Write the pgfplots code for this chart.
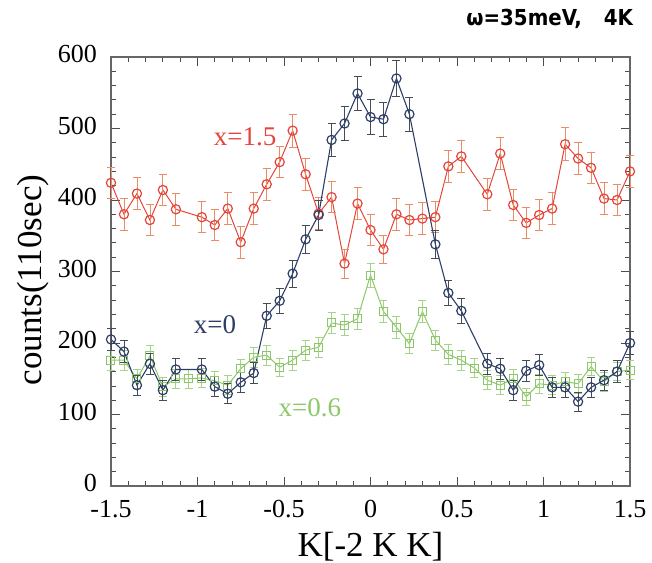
\documentclass[border=0pt]{standalone}
\usepackage{fontspec}
\setmainfont{Liberation Serif}
\newfontfamily\titlefont{DejaVu Sans Condensed}
\usepackage{pgfplots}
\usepackage{pgfplotstable}
\pgfplotsset{compat=1.18}
\definecolor{redser}{RGB}{228,68,58}
\definecolor{rederr}{RGB}{236,140,100}
\definecolor{blueser}{RGB}{45,62,105}
\definecolor{blueerr}{RGB}{70,75,90}
\definecolor{greenser}{RGB}{140,200,105}
\definecolor{greenerr}{RGB}{165,212,135}

\pgfplotstableread{
x y e
-1.5 424 22
-1.425 380 22
-1.35 409 22
-1.275 372 22
-1.2 414 22
-1.125 387 22
-0.975 376 22
-0.9 365 22
-0.825 388 22
-0.75 341 22
-0.675 388 22
-0.6 422 22
-0.525 453 22
-0.45 497 23
-0.375 436 22
-0.3 381 22
-0.225 404 22
-0.15 311 20
-0.075 395 22
0 358 22
0.075 331 20
0.15 380 22
0.225 372 22
0.3 374 22
0.375 376 22
0.45 447 22
0.525 461 22
0.675 408 22
0.75 465 22
0.825 393 22
0.9 368 22
0.975 379 22
1.05 388 22
1.125 478 23
1.2 458 22
1.275 445 22
1.35 402 22
1.425 400 22
1.5 440 22
}\redtab

\pgfplotstableread{
x y e
-1.5 205 15
-1.425 188 15
-1.35 141 14
-1.275 171 15
-1.2 134 14
-1.125 163 15
-0.975 163 15
-0.9 139 14
-0.825 129 14
-0.75 145 14
-0.675 158 15
-0.6 238 17
-0.525 259 18
-0.45 297 19
-0.375 345 20
-0.3 379 21
-0.225 484 23
-0.15 507 24
-0.075 549 24
0 516 24
0.075 513 24
0.15 570 25
0.225 520 24
0.375 338 20
0.45 270 18
0.525 245 17
0.675 171 15
0.75 164 15
0.825 134 14
0.9 161 15
0.975 169 15
1.05 138 14
1.125 138 14
1.2 118 13
1.275 138 14
1.35 148 14
1.425 160 15
1.5 200 16
}\bluetab

\pgfplotstableread{
x y e
-1.5 176 14
-1.425 176 14
-1.35 150 13
-1.275 182 14
-1.2 139 13
-1.125 150 13
-1.05 150 13
-0.975 151 13
-0.9 147 13
-0.825 141 13
-0.75 164 13
-0.675 180 14
-0.6 183 14
-0.525 166 13
-0.45 176 14
-0.375 190 14
-0.3 194 14
-0.225 228 15
-0.15 225 15
-0.075 234 15
0 295 17
0.075 244 15
0.15 222 15
0.225 199 14
0.3 244 15
0.375 204 14
0.45 184 14
0.525 176 14
0.6 165 13
0.675 148 13
0.75 141 13
0.825 150 13
0.9 125 12
0.975 143 13
1.05 141 13
1.125 146 13
1.2 143 13
1.275 167 13
1.35 146 13
1.425 160 13
1.5 162 13
}\greentab

\begin{document}
\begin{tikzpicture}
\useasboundingbox (-55.5pt,-38pt) rectangle (270.5pt,243pt);
\begin{axis}[
  scale only axis,
  width=259.5pt, height=214.5pt,
  xmin=-1.5, xmax=1.5, ymin=0, ymax=600,
  xtick={-1.5,-1,-0.5,0,0.5,1,1.5},
  ytick={0,100,200,300,400,500,600},
  minor x tick num=4, minor y tick num=4,
  tick align=inside,
  major tick length=4.5pt, minor tick length=2.5pt,
  every tick/.style={black!70, line width=0.4pt},
  axis line style={black!60, line width=0.6pt},
  tick label style={font=\fontsize{13}{15}\selectfont},
  yticklabel style={xshift=-3.5pt, yshift=1.5pt},
  xticklabel style={yshift=-3.5pt},
  /pgf/number format/assume math mode=true,
  xlabel={K[-2 K K]},
  ylabel={counts(110sec)},
  label style={font=\fontsize{17.5}{20}\selectfont},
  xlabel style={at={(axis description cs:0.5,-0.142)}, anchor=center},
  ylabel style={at={(axis description cs:-0.150,0.48)}, anchor=center},
  clip=false,
]
\addplot[greenser, line width=0.5pt, mark=square, mark size=2pt,
  mark options={greenser, line width=0.5pt},
  error bars/.cd, y dir=both, y explicit,
  error bar style={greenerr, line width=0.4pt},
  error mark options={rotate=90, mark size=2pt, greenerr}]
  table[x=x, y=y, y error=e] {\greentab};
\addplot[redser, line width=0.5pt, mark=o, mark size=2.3pt,
  mark options={redser, line width=0.6pt},
  error bars/.cd, y dir=both, y explicit,
  error bar style={rederr, line width=0.4pt},
  error mark options={rotate=90, mark size=2pt, rederr}]
  table[x=x, y=y, y error=e] {\redtab};
\addplot[blueser, line width=0.55pt, mark=o, mark size=2.3pt,
  mark options={blueser, line width=0.6pt},
  error bars/.cd, y dir=both, y explicit,
  error bar style={blueerr, line width=0.4pt},
  error mark options={rotate=90, mark size=2pt, blueerr}]
  table[x=x, y=y, y error=e] {\bluetab};
\node[redser, font=\fontsize{13.5}{15}\selectfont] at (axis cs:-0.725,488) {x=1.5};
\node[blueser, font=\fontsize{13.5}{15}\selectfont] at (axis cs:-0.899,225) {x=0};
\node[greenser, font=\fontsize{13.5}{15}\selectfont] at (axis cs:-0.35,109) {x=0.6};
\node[anchor=east, font=\titlefont\bfseries\fontsize{11}{13}\selectfont] at ([xshift=5pt,yshift=19pt]rel axis cs:1,1) {ω=35meV,\quad 4K};
\end{axis}
\end{tikzpicture}
\end{document}
